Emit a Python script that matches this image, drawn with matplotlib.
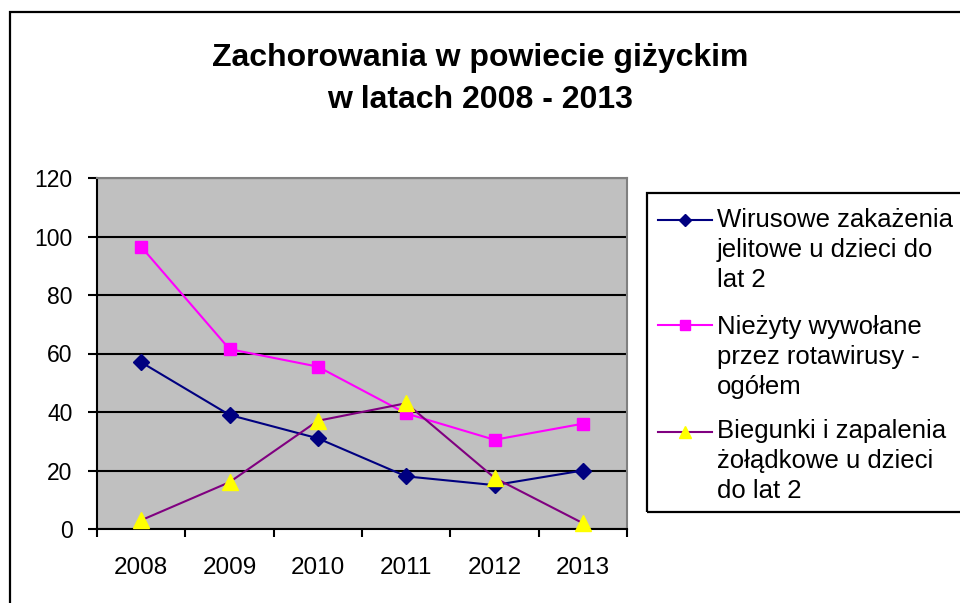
import matplotlib.pyplot as plt
import matplotlib.patches as patches
from matplotlib.lines import Line2D
import numpy as np

plt.rcParams['font.family'] = ['Liberation Sans', 'DejaVu Sans']

# data
years = ['2008', '2009', '2010', '2011', '2012', '2013']
wirusowe = [57, 39, 31, 18, 15, 20]
niezyty = [96.5, 61.5, 55.5, 39.5, 30.5, 36]
biegunki = [3, 16, 37, 43, 17.5, 2]

labels = [['Wirusowe zakażenia', 'jelitowe u dzieci do', 'lat 2'],
          ['Nieżyty wywołane', 'przez rotawirusy -', 'ogółem'],
          ['Biegunki i zapalenia', 'żołądkowe u dzieci', 'do lat 2']]

title_lines = ['Zachorowania w powiecie giżyckim', 'w latach 2008 - 2013']

# styles for each series: line colour, marker, marker face, marker size
styles = [
    dict(color='#000080', marker='D', mfc='#000080', mec='#000080', ms=8),
    dict(color='#FF00FF', marker='s', mfc='#FF00FF', mec='#FF00FF', ms=8.5),
    dict(color='#800080', marker='^', mfc='#FFFF00', mec='#FFFF00', ms=11),
]

W, H = 960, 603
fig = plt.figure(figsize=(9.6, 6.03), dpi=100)

# outer chart frame (runs off the right and bottom edges)
fig.add_artist(patches.Rectangle((10 / W, -0.05), 1.0, (H - 12) / H + 0.05,
                                 transform=fig.transFigure, fill=False,
                                 edgecolor='black', linewidth=1.6))

ax = fig.add_axes([97 / W, (H - 529) / H, (627 - 97) / W, (529 - 178) / H])
ax.set_facecolor('#C0C0C0')

x = np.arange(len(years))
for vals, st in zip([wirusowe, niezyty, biegunki], styles):
    ax.plot(x, vals, color=st['color'], lw=1.5, marker=st['marker'],
            markerfacecolor=st['mfc'], markeredgecolor=st['mec'],
            markersize=st['ms'], zorder=3, clip_on=False)

ax.set_xlim(-0.5, len(years) - 0.5)
ax.set_ylim(0, 120)
ax.set_yticks(np.arange(0, 121, 20))
ax.yaxis.grid(True, color='black', linewidth=1.5)
ax.set_axisbelow(True)

ax.set_xticks(x)
ax.set_xticklabels(years)
ax.set_xticks(np.arange(-0.5, len(years)), minor=True)
ax.tick_params(axis='x', which='major', length=0, pad=20, labelsize=17.5)
ax.tick_params(axis='x', which='minor', length=6, width=1.5, direction='out')
ax.tick_params(axis='y', length=6.5, width=1.5, pad=11, labelsize=16.5)

for side in ['left', 'bottom']:
    ax.spines[side].set_linewidth(1.5)
    ax.spines[side].set_color('black')
for side in ['top', 'right']:
    ax.spines[side].set_linewidth(1.5)
    ax.spines[side].set_color('#808080')

for line, base in zip(title_lines, [66, 108]):
    fig.text(0.5, (H - base) / H, line, ha='center', va='baseline',
             fontsize=23, fontweight='bold')

# legend drawn by hand so the handles line up with the first text line
lx0, ly0, lx1, ly1 = 647, 193, 975, 512
fig.add_artist(patches.Rectangle((lx0 / W, (H - ly1) / H), (lx1 - lx0) / W,
                                 (ly1 - ly0) / H, transform=fig.transFigure,
                                 fill=False, edgecolor='black', linewidth=1.6))
handle_y = [220, 325, 432]
first_base = [227, 334, 438]
for lab, st, yy, b0 in zip(labels, styles, handle_y, first_base):
    fy = (H - yy) / H
    fig.add_artist(Line2D([658 / W, 712 / W], [fy, fy], transform=fig.transFigure,
                          color=st['color'], lw=1.5))
    fig.add_artist(Line2D([685 / W], [fy], transform=fig.transFigure,
                          marker=st['marker'], markerfacecolor=st['mfc'],
                          markeredgecolor=st['mec'], markersize=st['ms'] * 0.8))
    for i, part in enumerate(lab):
        fig.text(717 / W, (H - b0 - 30 * i) / H, part, ha='left',
                 va='baseline', fontsize=18.5)

fig.savefig('out.png', dpi=100)
